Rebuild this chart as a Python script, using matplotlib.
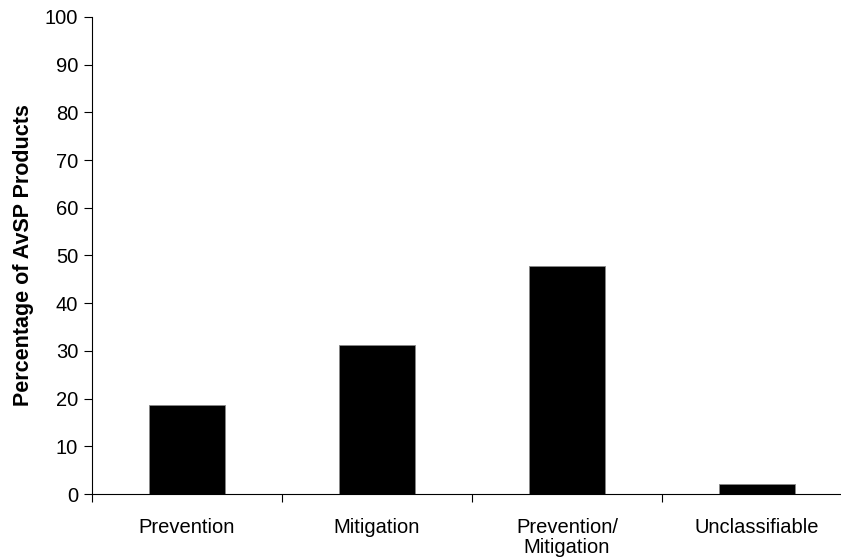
import matplotlib
matplotlib.use("Agg")
import matplotlib.pyplot as plt
import numpy as np

categories = ["Prevention", "Mitigation", "Prevention/\nMitigation", "Unclassifiable"]
values = [18.7, 31.2, 47.9, 2.1]
yticks = [0, 10, 20, 30, 40, 50, 60, 70, 80, 90, 100]

plt.rcParams['font.family'] = ['Liberation Sans', 'DejaVu Sans']

W, H = 841, 557
fig = plt.figure(figsize=(W/100, H/100), dpi=100)
ax = fig.add_axes([92/W, 1-494/H, (852-92)/W, (494-17)/H])

x = np.arange(len(categories))
ax.bar(x, values, width=0.4, color='black', edgecolor='#888888', linewidth=0.6)

ax.set_xlim(-0.5, len(categories)-0.5)
ax.set_ylim(0, 100)
ax.set_yticks(yticks)
ax.set_yticklabels([str(v) for v in yticks], fontsize=14.5)
ax.set_xticks(x)
ax.set_xticklabels(categories, fontsize=14.5, linespacing=1.1)
ax.tick_params(axis='x', which='major', length=0, pad=17)
ax.set_xticks(np.arange(len(categories)) - 0.5, minor=True)
ax.tick_params(axis='x', which='minor', length=6, width=0.8, direction='out')
ax.tick_params(axis='y', length=6, width=0.8, direction='out', pad=4)

for s in ['top', 'right']:
    ax.spines[s].set_visible(False)
for s in ['left', 'bottom']:
    ax.spines[s].set_linewidth(0.8)

ax.set_ylabel("Percentage of AvSP Products", fontsize=15.5, fontweight='bold', labelpad=8)

fig.savefig("out.png", dpi=100)
